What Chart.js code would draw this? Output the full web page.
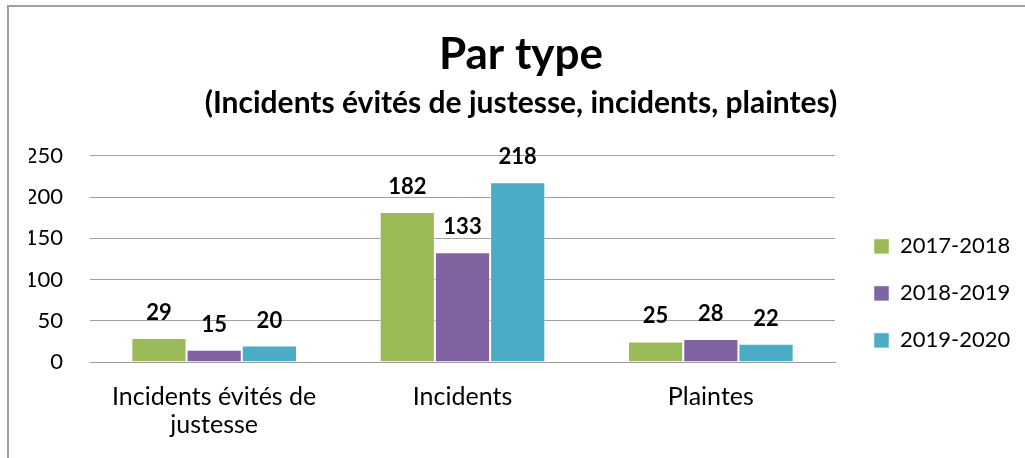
<!DOCTYPE html>
<html>
<head>
<meta charset="utf-8">
<script src="https://cdn.jsdelivr.net/npm/chart.js@4/dist/chart.umd.min.js"></script>
<style>
  html, body { margin: 0; padding: 0; background: #fff; overflow: hidden; }
  #frame { position: absolute; left: 7px; top: 5px; width: 1100px; height: 600px;
           border-left: 2px solid #a0a0a0; border-top: 2px solid #a0a0a0; }
  #myChart { position: absolute; left: 0; top: 0; }
</style>
</head>
<body>
<div id="frame"></div>
<canvas id="myChart" width="1032" height="458"></canvas>
<script>
const categories  = [["Incidents évités de", "justesse"], "Incidents", "Plaintes"];
const seriesNames = ["2017-2018", "2018-2019", "2019-2020"];
const values1718  = [29, 182, 25];
const values1819  = [15, 133, 28];
const values1920  = [20, 218, 22];
const yTicks      = [0, 50, 100, 150, 200, 250];
const colors      = ["#9BBB59", "#8064A2", "#4BACC6"];

const font = "Lato";

// value labels above each bar
const barLabels = {
  id: "barLabels",
  afterDatasetsDraw(chart) {
    const ctx = chart.ctx;
    ctx.save();
    ctx.font = `bold 22px ${font}`;
    ctx.fillStyle = "#000";
    ctx.textAlign = "center";
    ctx.textBaseline = "alphabetic";
    chart.data.datasets.forEach((ds, i) => {
      chart.getDatasetMeta(i).data.forEach((bar, j) => {
        ctx.fillText(ds.data[j], bar.x, bar.y - 18);
      });
    });
    ctx.restore();
  }
};

const series = [values1718, values1819, values1920];

new Chart(document.getElementById("myChart"), {
  type: "bar",
  data: {
    labels: categories,
    datasets: series.map((vals, i) => ({
      label: seriesNames[i],
      data: vals,
      backgroundColor: colors[i],
      borderColor: "rgba(255,255,255,0.5)",
      borderWidth: 1,
      categoryPercentage: 0.667,
      barPercentage: 1
    }))
  },
  options: {
    responsive: false,
    animation: false,
    devicePixelRatio: 1,
    layout: { padding: { left: 29, right: 19, top: 0, bottom: 0 } },
    plugins: {
      title: {
        display: true,
        text: "Par type",
        color: "#000",
        font: { family: font, size: 44, weight: "bold", lineHeight: 1.2 },
        padding: { top: 28, bottom: 0 }
      },
      subtitle: {
        display: true,
        text: "(Incidents évités de justesse, incidents, plaintes)",
        color: "#000",
        font: { family: font, size: 30, weight: "bold", lineHeight: 1.2 },
        padding: { top: 5, bottom: 34 }
      },
      legend: {
        position: "right",
        align: "start",
        title: { display: true, text: "", padding: { top: 196, bottom: 0 }, font: { size: 12 } },
        labels: {
          boxWidth: 15,
          boxHeight: 15,
          padding: 25,
          color: "#000",
          font: { family: font, size: 22 }
        }
      },
      tooltip: { enabled: false }
    },
    scales: {
      x: {
        grid: { display: false },
        border: { display: true, color: "#a0a0a0" },
        ticks: {
          color: "#000",
          padding: 13,
          maxRotation: 0,
          font: { family: font, size: 25, lineHeight: 1.12 }
        },
        afterFit(s) { s.height = 96; }
      },
      y: {
        min: 0,
        max: 250,
        grid: { color: "#a0a0a0", drawTicks: false },
        border: { display: false },
        ticks: {
          color: "#000",
          padding: 27,
          font: { family: font, size: 22 }
        },
        afterBuildTicks(s) { s.ticks = yTicks.map(v => ({ value: v })); },
        afterFit(s) { s.width = 61; }
      },
      y2: {
        position: "right",
        min: 0,
        max: 1,
        grid: { display: false },
        border: { display: false },
        ticks: { display: false },
        afterFit(s) { s.width = 14; }
      }
    }
  },
  plugins: [barLabels]
});
</script>
</body>
</html>
